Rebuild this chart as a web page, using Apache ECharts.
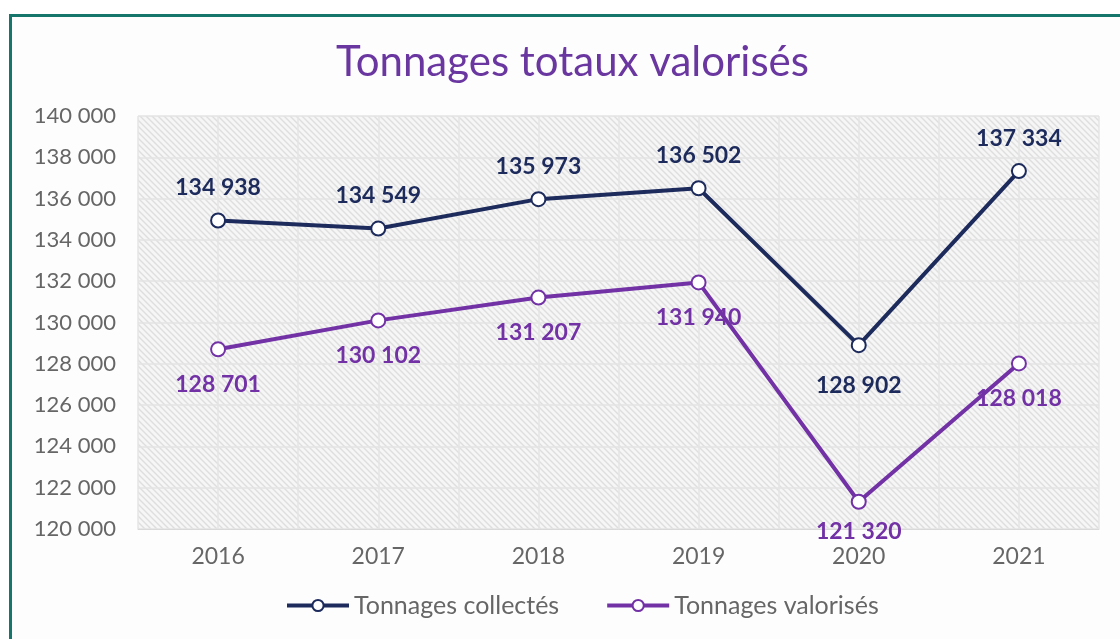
<!DOCTYPE html>
<html>
<head>
<meta charset="utf-8">
<script src="https://cdn.jsdelivr.net/npm/echarts@6/dist/echarts.min.js"></script>
<style>
  html, body { margin: 0; padding: 0; background: #ffffff; overflow: hidden; }
  #frame { position: absolute; left: 9px; top: 14px; width: 1140px; height: 660px;
           border: 3px solid #17766b; background: #fdfdfd; }
  #chart { position: absolute; left: 0; top: 0; width: 1120px; height: 639px; }
</style>
</head>
<body>
<div id="frame"></div>
<div id="chart"></div>
<script>
// Years on the horizontal axis
const years = ['2016', '2017', '2018', '2019', '2020', '2021'];
// Tonnes collected per year
const collectes = [134938, 134549, 135973, 136502, 128902, 137334];
// Tonnes recovered per year
const valorises = [128701, 130102, 131207, 131940, 121320, 128018];

const navy = '#1c2a5c';
const purple = '#7232a6';
const grey = '#666666';

// Label placement for each point: side of the point and gap in px
const placement = {
  collectes: [['top', 13], ['top', 13], ['top', 13], ['top', 13], ['bottom', 21], ['top', 13]],
  valorises: [['bottom', 16], ['bottom', 16], ['bottom', 16], ['bottom', 16], ['bottom', 10], ['bottom', 16]]
};

// Diagonal hatch fill for the plotting area
function hatchPattern() {
  const s = 6;
  const c = document.createElement('canvas');
  c.width = s; c.height = s;
  const g = c.getContext('2d');
  g.fillStyle = '#f6f6f6';
  g.fillRect(0, 0, s, s);
  g.strokeStyle = '#dedede';
  g.lineWidth = 1.4;
  g.beginPath();
  g.moveTo(-1, -1); g.lineTo(s + 1, s + 1);
  g.moveTo(-1, s - 1); g.lineTo(1, s + 1);
  g.moveTo(s - 1, -1); g.lineTo(s + 1, 1);
  g.stroke();
  return c;
}

const fmt = v => String(v).replace(/\B(?=(\d{3})+(?!\d))/g, ' ');

function series(name, data, place, color) {
  return {
    name: name,
    type: 'line',
    data: data.map((v, i) => ({
      value: v,
      label: { position: place[i][0], distance: place[i][1] }
    })),
    symbol: 'emptyCircle',
    symbolSize: 14,
    lineStyle: { color: color, width: 4 },
    itemStyle: { color: color, borderColor: color, borderWidth: 3 },
    label: {
      show: true,
      color: color,
      fontFamily: 'Lato',
      fontWeight: 'bold',
      fontSize: 23,
      formatter: p => fmt(p.value)
    },
    z: 5
  };
}

const chart = echarts.init(document.getElementById('chart'), null, { renderer: 'canvas' });
chart.setOption({
  backgroundColor: 'transparent',
  animation: false,
  title: {
    text: 'Tonnages totaux valorisés',
    left: 331,
    top: 36,
    textStyle: { color: '#6a36a0', fontFamily: 'Lato', fontWeight: 'normal', fontSize: 42 }
  },
  legend: {
    bottom: 16,
    left: 280,
    itemWidth: 62,
    itemHeight: 14,
    itemGap: 46,
    lineStyle: { width: 4 },
    textStyle: { color: grey, fontFamily: 'Lato', fontSize: 25, padding: [0, 0, 0, 0] },
    data: ['Tonnages collectés', 'Tonnages valorisés']
  },
  grid: {
    left: 138, right: 21, top: 116, bottom: 110,
    show: true,
    borderWidth: 0,
    backgroundColor: { image: hatchPattern(), repeat: 'repeat' }
  },
  xAxis: [
    {
      type: 'category',
      data: years,
      boundaryGap: true,
      axisLine: { show: true, lineStyle: { color: '#d9d9d9', width: 1 } },
      axisTick: { show: false },
      splitLine: { show: false },
      axisLabel: { color: grey, fontFamily: 'Lato', fontSize: 23, margin: 16 }
    },
    {
      // Half-category gridlines behind the data
      type: 'value',
      min: 0, max: years.length * 2, interval: 1,
      position: 'bottom',
      show: true,
      axisLine: { show: false },
      axisTick: { show: false },
      axisLabel: { show: false },
      splitLine: { show: true, lineStyle: { color: '#e4e4e4', width: 1.5 } }
    }
  ],
  yAxis: {
    type: 'value',
    min: 120000,
    max: 140000,
    interval: 2000,
    axisLine: { show: false },
    axisTick: { show: false },
    axisLabel: { color: grey, fontFamily: 'Lato', fontSize: 22, margin: 22, formatter: v => fmt(v) },
    splitLine: { show: true, lineStyle: { color: '#e3e3e3', width: 1.5 } }
  },
  series: [
    series('Tonnages collectés', collectes, placement.collectes, navy),
    series('Tonnages valorisés', valorises, placement.valorises, purple)
  ]
});
</script>
</body>
</html>
